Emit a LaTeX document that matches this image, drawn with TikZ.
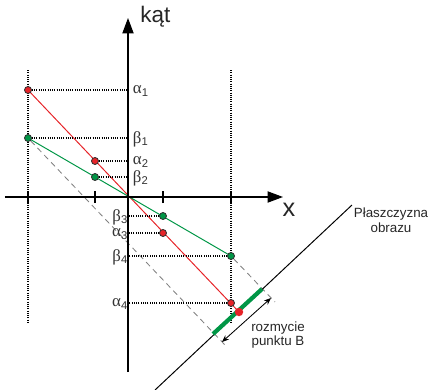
\documentclass[tikz,border=0pt]{standalone}
\usepackage{fontspec}
\setmainfont{Liberation Sans}
\newfontfamily\greekfont{Liberation Serif}
\usetikzlibrary{arrows.meta,backgrounds}

\definecolor{rayred}{RGB}{230,35,40}
\definecolor{raygreen}{RGB}{0,150,70}

\newcommand{\angsym}[2]{{\greekfont #1}\textsubscript{#2}}

\tikzset{
  redpt/.style={circle, draw=black!80, fill=rayred, line width=0.6pt, inner sep=0pt, minimum size=5pt},
  greenpt/.style={circle, draw=black!80, fill=raygreen, line width=0.6pt, inner sep=0pt, minimum size=5pt},
  guide/.style={line width=0.75pt, dash pattern=on 0.7pt off 0.9pt},
  projline/.style={gray, dash pattern=on 4pt off 3pt, line width=0.6pt},
  anglbl/.style={font=\fontsize{12}{13}\selectfont, text=black!80, inner sep=0.5pt},
  txtlbl/.style={font=\fontsize{9.5}{10.6}\selectfont, text=black!85, align=center},
}

\begin{document}
\begin{tikzpicture}[x=0.025cm, y=0.025cm]
    \useasboundingbox (-128,-193) rectangle (302,197);

    % Axes
    \coordinate (xl) at (-123,0);
    \coordinate (xr) at (155,0);
    \coordinate (yb) at (0,-175);
    \coordinate (yt) at (0,179);
    \draw[line width=0.85pt, -{Triangle[length=11pt,width=8pt]}] (xl) -- (xr);
    \draw[line width=0.85pt, -{Triangle[length=11pt,width=8pt]}] (yb) -- (yt);
    \node[font=\fontsize{18}{20}\selectfont, text=black!85] (xlab) at (161,-13) {x};
    \node[font=\fontsize{16}{18}\selectfont, text=black!85, anchor=west, inner sep=0pt] (klab) at (12,180) {kąt};

    % Ticks and vertical guides
    \foreach \t in {-100,-33,35,103}
        \draw[line width=1.4pt] (\t,-6) -- (\t,6);
    \draw[guide] (-100,127) -- (-100,-126);
    \draw[guide] (103,127) -- (103,-126);

    % Image plane with blurred spot
    \coordinate (p1) at (27,-193);
    \coordinate (p2) at (224,-8);
    \draw[line width=0.7pt] (p1) -- (p2);
    \coordinate (e1) at (97,-148);
    \coordinate (e2) at (147,-105);
    \coordinate (g1) at (85,-137);
    \coordinate (g2) at (134,-92);

    % Points
    \node[redpt] (a1) at (-100,107) {};
    \node[greenpt] (b1) at (-100,59) {};
    \node[redpt] (a2) at (-33,36) {};
    \node[greenpt] (b2) at (-33,20) {};
    \node[greenpt] (b3) at (35,-19) {};
    \node[redpt] (a3) at (35,-36) {};
    \node[greenpt] (b4) at (103,-59) {};
    \node[redpt] (a4) at (103,-106) {};

    \begin{scope}[on background layer]
        % Rays
        \draw[rayred, line width=0.7pt] (a1.center) -- (111,-115) coordinate (bd);
        \draw[raygreen, line width=0.7pt] (b1.center) -- (b4.center);
        % Projections onto the plane
        \draw[projline] (b1) -- (e1);
        \draw[projline] (b4) -- (e2);
        % Readings on the angle axis
        \foreach \p in {a1,b1,a2,b2,b3,a3,b4,a4}
            \draw[guide] (\p) -- (\p -| yb);
    \end{scope}

    \draw[raygreen, line width=3pt] (g1) -- (g2);
    \node[circle, fill=rayred, inner sep=0pt, minimum size=6pt] (bdot) at (bd) {};

    % Angle labels
    \node[anglbl, anchor=west] (la1) at (4,106) {\angsym{α}{1}};
    \node[anglbl, anchor=west] (lb1) at (4,58) {\angsym{β}{1}};
    \node[anglbl, anchor=west] (la2) at (4,35) {\angsym{α}{2}};
    \node[anglbl, anchor=west] (lb2) at (4,19) {\angsym{β}{2}};
    \node[anglbl, anchor=east] (lb3) at (1,-20) {\angsym{β}{3}};
    \node[anglbl, anchor=east] (la3) at (1,-37) {\angsym{α}{3}};
    \node[anglbl, anchor=east] (lb4) at (1,-60) {\angsym{β}{4}};
    \node[anglbl, anchor=east] (la4) at (1,-107) {\angsym{α}{4}};

    % Blur size
    \coordinate (m1) at (94,-145);
    \coordinate (m2) at (143,-101);
    \draw[line width=0.6pt, {Stealth[length=5pt,width=4pt]}-{Stealth[length=5pt,width=4pt]}] (m1) -- (m2);
    \node[txtlbl] (lblur) at (150,-138) {rozmycie\\punktu B};
    \node[txtlbl] (lplane) at (263,-23) {Płaszczyzna\\obrazu};
\end{tikzpicture}
\end{document}
